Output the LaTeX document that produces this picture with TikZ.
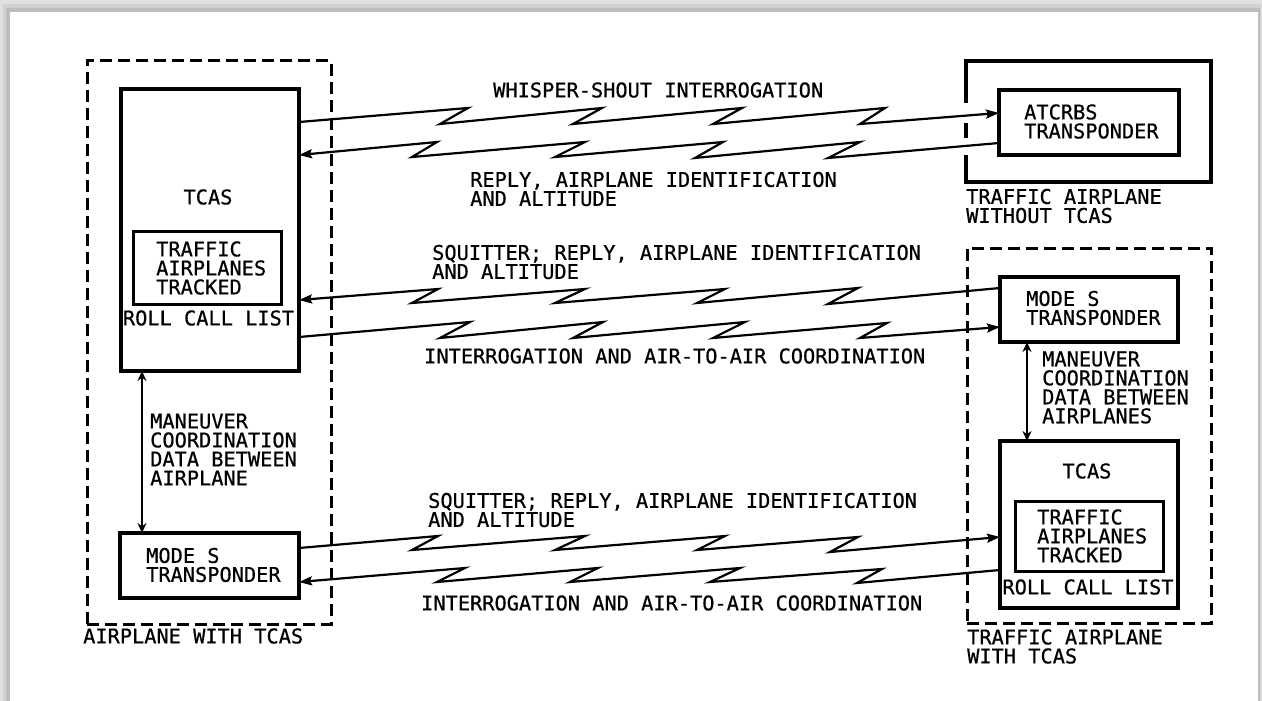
\documentclass[tikz,border=0pt]{standalone}
\usepackage{fontspec}
\newfontfamily\monofnt[FakeBold=0.6]{DejaVu Sans Mono}
\usetikzlibrary{arrows.meta,calc}
\begin{document}
\begin{tikzpicture}[x=1pt,y=-1pt,
  box/.style={draw, line width=3.3pt, inner sep=0pt, outer sep=0pt, anchor=north west},
  dbox/.style={box, line width=3pt, dash pattern=on 12pt off 6pt},
  txt/.style={font=\monofnt\fontsize{20.3pt}{19pt}\selectfont, inner sep=0pt, align=left, anchor=west},
  bolt/.style={line width=2.2pt, -{Stealth[length=13pt,width=9pt,inset=2pt]}},
  dbl/.style={line width=1.5pt, {Stealth[length=10pt,width=9pt]}-{Stealth[length=10pt,width=9pt]}},
]
\useasboundingbox (0,0) rectangle (1262,701);
% page shadow
\fill[black!12] (0,0) rectangle (1262,701);
\fill[black!18] (3,4) rectangle (1261,701);
\fill[black!26] (6,8) rectangle (1260,701);
\fill[white] (10,12) rectangle (1258,701);

% boxes
\node[dbox, minimum width=244pt, minimum height=563pt] (dashL) at (87,61) {};
\node[box, minimum width=178pt, minimum height=282pt] (tcasL) at (121,89) {};
\node[box, line width=3pt, minimum width=148pt, minimum height=73pt] (trkL) at (133,231) {};
\node[box, minimum width=179pt, minimum height=65pt] (modeL) at (120,533) {};
\node[box, draw=none, minimum width=245pt, minimum height=121pt] (outR) at (966,61) {};
\node[box, minimum width=180pt, minimum height=65pt] (atcrbs) at (999,90) {};
\node[dbox, minimum width=244pt, minimum height=375pt] (dashR) at (967,248) {};
\node[box, minimum width=178pt, minimum height=65pt] (modeR) at (1000,277) {};
\node[box, minimum width=178pt, minimum height=167pt] (tcasR) at (1000,441) {};
\node[box, line width=3pt, minimum width=148pt, minimum height=70pt] (trkR) at (1015,501) {};

% outline of traffic airplane without TCAS, broken where the links pass
\draw[line width=3.3pt] ([yshift=-42pt]outR.north west) -- (outR.north west) -- (outR.north east)
  -- (outR.south east) -- (outR.south west) -- ([yshift=27pt]outR.south west);
\draw[line width=3.3pt] ([yshift=-62pt]outR.north west) -- ([yshift=-77pt]outR.north west);

% texts in boxes
\node[txt, anchor=center] (tcasLt) at (208,197) {TCAS};
\node[txt] (trkLt) at (156,268) {TRAFFIC\\AIRPLANES\\TRACKED};
\node[txt, anchor=center] (rclL) at (208.5,318) {ROLL CALL LIST};
\node[txt] (modeLt) at (146,565) {MODE S\\TRANSPONDER};
\node[txt] (manL) at (150,449.5) {MANEUVER\\COORDINATION\\DATA BETWEEN\\AIRPLANE};
\node[txt] (capL) at (83,636) {AIRPLANE WITH TCAS};
\node[txt] (atcrbst) at (1024,121.5) {ATCRBS\\TRANSPONDER};
\node[txt] (capR1) at (966,206) {TRAFFIC AIRPLANE\\WITHOUT TCAS};
\node[txt] (modeRt) at (1026,308) {MODE S\\TRANSPONDER};
\node[txt] (manR) at (1042,387.5) {MANEUVER\\COORDINATION\\DATA BETWEEN\\AIRPLANES};
\node[txt, anchor=center] (tcasRt) at (1087,471) {TCAS};
\node[txt] (trkRt) at (1037,536) {TRAFFIC\\AIRPLANES\\TRACKED};
\node[txt, anchor=center] (rclR) at (1088,587) {ROLL CALL LIST};
\node[txt] (capR2) at (967,646.5) {TRAFFIC AIRPLANE\\WITH TCAS};

% link labels
\node[txt] (l1) at (493,90) {WHISPER-SHOUT INTERROGATION};
\node[txt] (l2) at (470,189) {REPLY, AIRPLANE IDENTIFICATION\\AND ALTITUDE};
\node[txt] (l3) at (432,262) {SQUITTER; REPLY, AIRPLANE IDENTIFICATION\\AND ALTITUDE};
\node[txt] (l4) at (424,356) {INTERROGATION AND AIR-TO-AIR COORDINATION};
\node[txt] (l5) at (428,510) {SQUITTER; REPLY, AIRPLANE IDENTIFICATION\\AND ALTITUDE};
\node[txt] (l6) at (421,603) {INTERROGATION AND AIR-TO-AIR COORDINATION};

% vertical links
\draw[dbl] (tcasL.south -| 142,0) -- (modeL.north -| 142,0);
\draw[dbl] (modeR.south -| 1027,0) -- (tcasR.north -| 1027,0);

% radio links
\draw[bolt] (tcasL.east |- 0,122) -- (468,108) -- (440,124) -- (602,108) -- (573,124) -- (742,108)
  -- (713,124) -- (885,108) -- (860,124) -- (atcrbs.west |- 0,113);
\draw[bolt] (atcrbs.west |- 0,143) -- (828,158) -- (860,142) -- (695,158) -- (723,142) -- (555,157)
  -- (585,142) -- (412,157) -- (437,142) -- (tcasL.east |- 0,155);
\draw[bolt] (modeR.west |- 0,288) -- (828,304) -- (858,288) -- (697,303) -- (725,289) -- (555,303)
  -- (585,289) -- (412,303) -- (438,289) -- (tcasL.east |- 0,300);
\draw[bolt] (tcasL.east |- 0,337) -- (470,322) -- (440,338) -- (603,322) -- (573,338) -- (745,322)
  -- (713,338) -- (887,323) -- (860,338) -- (modeR.west |- 0,327);
\draw[bolt] (modeL.east |- 0,548) -- (438,536) -- (412,550) -- (585,536) -- (555,550) -- (725,536)
  -- (697,550) -- (858,537) -- (830,552) -- (tcasR.west |- 0,537);
\draw[bolt] (tcasR.west |- 0,570) -- (857,583) -- (882,569) -- (710,582) -- (740,568) -- (570,582)
  -- (598,568) -- (437,582) -- (465,568) -- (modeL.east |- 0,582);
\end{tikzpicture}
\end{document}
